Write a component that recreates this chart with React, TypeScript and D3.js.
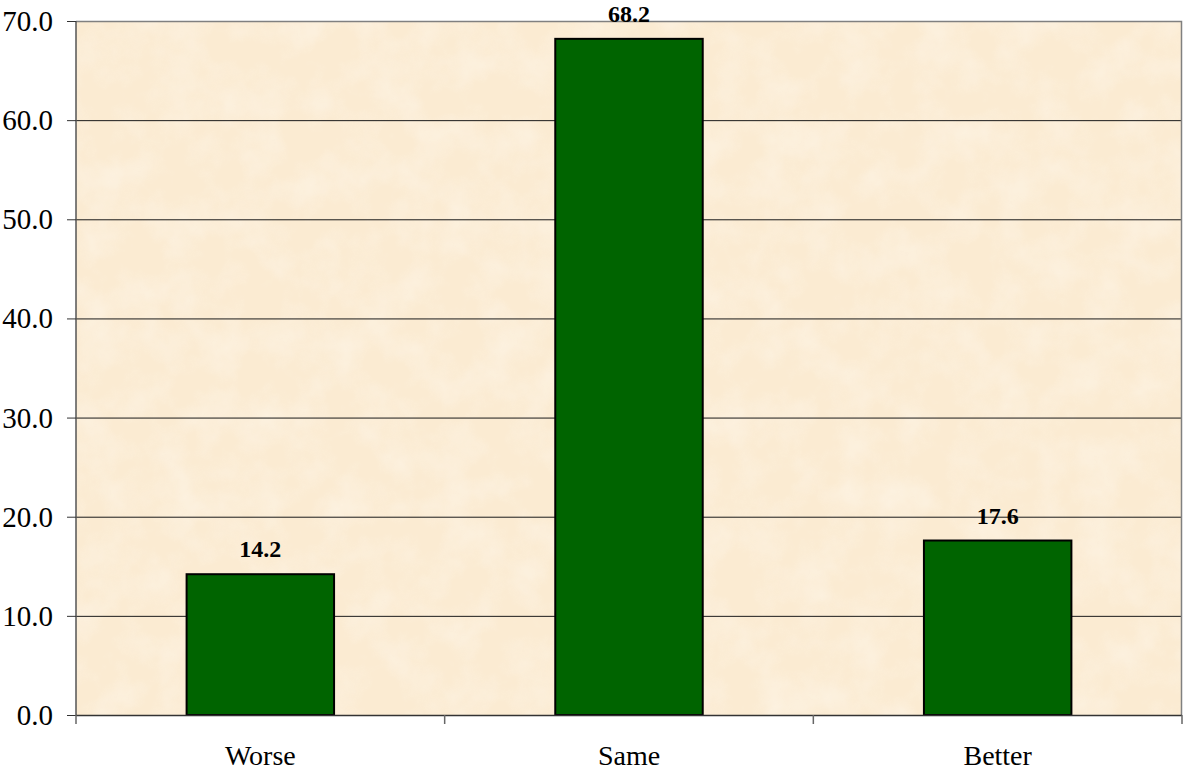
import { useEffect, useRef } from "react"
import * as d3 from "d3";

const categories = ["Worse", "Same", "Better"];
const values = [14.2, 68.2, 17.6];
const yTicks = [0, 10, 20, 30, 40, 50, 60, 70];

const FONT = "'Liberation Serif', 'Times New Roman', Times, serif";

const App = () => {
  const chartRef = useRef<SVGSVGElement>(null);

  useEffect(() => {
    const width = 1183;
    const height = 772;
    const left = 76, right = 1182, top = 21, bottom = 715;

    const svg = d3.select(chartRef.current);
    svg.selectAll("*").remove();
    svg.attr("width", width).attr("height", height);

    // parchment-like texture
    const defs = svg.append("defs");
    const filter = defs.append("filter").attr("id", "paper")
      .attr("x", 0).attr("y", 0).attr("width", "100%").attr("height", "100%");
    filter.append("feTurbulence")
      .attr("type", "fractalNoise")
      .attr("baseFrequency", "0.025")
      .attr("numOctaves", 4)
      .attr("seed", 7);
    filter.append("feColorMatrix")
      .attr("type", "matrix")
      .attr("values", "0 0 0 0 1  0 0 0 0 0.98  0 0 0 0 0.94  0 0 0 -1.4 0.9");

    const x = d3.scaleBand<string>()
      .domain(categories)
      .range([left, right])
      .paddingInner(0.6)
      .paddingOuter(0.3);
    const y = d3.scaleLinear().domain([0, 70]).range([bottom, top]);

    // plot background
    svg.append("rect")
      .attr("x", left).attr("y", top)
      .attr("width", right - left).attr("height", bottom - top)
      .attr("fill", "#FBEBD2");
    svg.append("rect")
      .attr("x", left).attr("y", top)
      .attr("width", right - left).attr("height", bottom - top)
      .attr("filter", "url(#paper)")
      .attr("opacity", 0.45);

    // gridlines
    svg.append("g").selectAll("line")
      .data(yTicks.filter(d => d > 0 && d < 70))
      .join("line")
      .attr("x1", left).attr("x2", right)
      .attr("y1", d => y(d) + 0.5).attr("y2", d => y(d) + 0.5)
      .attr("stroke", "#1a1a1a").attr("stroke-width", 1);

    // plot border top/right
    svg.append("path")
      .attr("d", `M${left},${top + 0.5}H${right - 0.5}V${bottom}`)
      .attr("fill", "none").attr("stroke", "#808080").attr("stroke-width", 1.5);

    // bars
    svg.append("g").selectAll("rect")
      .data(values)
      .join("rect")
      .attr("x", (d, i) => x(categories[i])!)
      .attr("y", d => y(d))
      .attr("width", x.bandwidth())
      .attr("height", d => bottom - y(d))
      .attr("fill", "#006400")
      .attr("stroke", "#000")
      .attr("stroke-width", 2);

    // value labels
    svg.append("g").selectAll("text")
      .data(values)
      .join("text")
      .attr("x", (d, i) => x(categories[i])! + x.bandwidth() / 2)
      .attr("y", d => y(d) - 17)
      .attr("text-anchor", "middle")
      .attr("font-family", FONT)
      .attr("font-weight", "bold")
      .attr("font-size", 24)
      .attr("fill", "#000")
      .text(d => d.toFixed(1));

    // y axis
    const yAxis = svg.append("g");
    yAxis.append("line")
      .attr("x1", left).attr("x2", left)
      .attr("y1", top).attr("y2", bottom)
      .attr("stroke", "#555").attr("stroke-width", 1.5);
    yAxis.selectAll("line.tick")
      .data(yTicks)
      .join("line")
      .attr("class", "tick")
      .attr("x1", left - 9).attr("x2", left)
      .attr("y1", d => y(d) + 0.5).attr("y2", d => y(d) + 0.5)
      .attr("stroke", "#333");
    yAxis.selectAll("text")
      .data(yTicks)
      .join("text")
      .attr("x", 53)
      .attr("y", d => y(d) + 10)
      .attr("text-anchor", "end")
      .attr("font-family", FONT)
      .attr("font-size", 29)
      .attr("fill", "#000")
      .text(d => d.toFixed(1));

    // x axis
    const xAxis = svg.append("g");
    xAxis.append("line")
      .attr("x1", left).attr("x2", right)
      .attr("y1", bottom + 0.5).attr("y2", bottom + 0.5)
      .attr("stroke", "#333").attr("stroke-width", 1.5);
    const step = x.step();
    xAxis.selectAll("line.tick")
      .data(d3.range(categories.length + 1))
      .join("line")
      .attr("class", "tick")
      .attr("x1", i => left + i * step).attr("x2", i => left + i * step)
      .attr("y1", bottom).attr("y2", bottom + 9)
      .attr("stroke", "#666").attr("stroke-width", 1.5);
    xAxis.selectAll("text")
      .data(categories)
      .join("text")
      .attr("x", d => x(d)! + x.bandwidth() / 2)
      .attr("y", 765)
      .attr("text-anchor", "middle")
      .attr("font-family", FONT)
      .attr("font-size", 28)
      .attr("fill", "#000")
      .text(d => d);
  }, []);

  return (
    <div style={{ position: "absolute", left: 0, top: 0 }}>
      <svg ref={chartRef} style={{ display: "block" }}></svg>
    </div>
  );
};

export default App;
